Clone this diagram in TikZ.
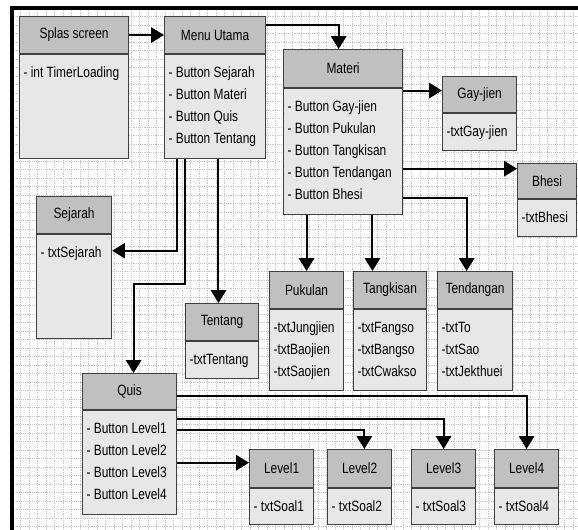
\documentclass[tikz,border=0pt]{standalone}
\usepackage{fontspec}
\setmainfont[FakeStretch=0.8]{Liberation Sans}
\usetikzlibrary{arrows.meta,positioning}

\definecolor{hdrgray}{RGB}{192,192,192}
\definecolor{bodygray}{RGB}{231,231,231}
\definecolor{edgegray}{RGB}{64,64,64}
\definecolor{gridgray}{RGB}{200,200,200}

\tikzset{
  clshead/.style={draw=edgegray, fill=hdrgray, line width=0.8pt, anchor=north west, inner sep=0pt, minimum height=0.925cm},
  clsbody/.style={draw=edgegray, fill=bodygray, line width=0.8pt, anchor=north west, inner xsep=0.1cm, inner ysep=0pt},
  link/.style={line width=1.4pt, -{Triangle[length=0.32cm, width=0.38cm]}},
  gridline/.style={gridgray, densely dotted, line width=0.3pt},
}
\newcommand{\members}[3]{\parbox[t][#2][t]{#1}{\raggedright\rule{0pt}{0.57cm}#3}}

\begin{document}
\begin{tikzpicture}[x=0.025cm, y=-0.025cm, font=\fontsize{10.6pt}{15.6pt}\selectfont]
\useasboundingbox (0,0) rectangle (578,530);

%grid and frame
\foreach \gx in {12,20.5,...,578} \draw[gridline] (\gx,8) -- (\gx,530);
\foreach \gy in {8,16.5,...,530} \draw[gridline] (12,\gy) -- (578,\gy);
\draw[line width=2.4pt] (12,530) -- (12,8) -- (578,8);

%splas screen, menu
\node[clshead, minimum width=2.725cm] (splas-h) at (19,16) {Splas screen};
\node[clsbody] (splas) at (splas-h.south west) {\members{2.525cm}{2.6cm}{- int TimerLoading}};
\node[clshead, minimum width=2.525cm] (menu-h) at (164,16) {Menu Utama};
\node[clsbody] (menu) at (menu-h.south west) {\members{2.325cm}{2.6cm}{- Button Sejarah\\- Button Materi\\- Button Quis\\- Button Tentang}};

%materi
\node[clshead, minimum width=2.975cm, minimum height=0.95cm] (materi-h) at (283,49) {Materi};
\node[clsbody] (materi) at (materi-h.south west) {\members{2.775cm}{3.15cm}{- Button Gay-jien\\- Button Pukulan\\- Button Tangkisan\\- Button Tendangan\\- Button Bhesi}};
\node[clshead, minimum width=1.85cm, minimum height=0.9cm] (gay-h) at (442,76) {Gay-jien};
\node[clsbody] (gay) at (gay-h.south west) {\members{1.65cm}{0.925cm}{-txtGay-jien}};
\node[clshead, minimum width=1.475cm, minimum height=0.875cm] (bhesi-h) at (517,163) {Bhesi};
\node[clsbody] (bhesi) at (bhesi-h.south west) {\members{1.275cm}{0.925cm}{-txtBhesi}};
\node[clshead, minimum width=1.85cm] (pukulan-h) at (269,271) {Pukulan};
\node[clsbody] (pukulan) at (pukulan-h.south west) {\members{1.65cm}{2.025cm}{-txtJungjien\\-txtBaojien\\-txtSaojien}};
\node[clshead, minimum width=1.825cm] (tangkisan-h) at (353,271) {Tangkisan};
\node[clsbody] (tangkisan) at (tangkisan-h.south west) {\members{1.625cm}{2.025cm}{-txtFangso\\-txtBangso\\-txtCwakso}};
\node[clshead, minimum width=1.875cm] (tendangan-h) at (437,271) {Tendangan};
\node[clsbody] (tendangan) at (tendangan-h.south west) {\members{1.675cm}{2.025cm}{-txtTo\\-txtSao\\-txtJekthuei}};

%sejarah, tentang
\node[clshead, minimum width=1.875cm] (sejarah-h) at (36,196) {Sejarah};
\node[clsbody] (sejarah) at (sejarah-h.south west) {\members{1.675cm}{2.6cm}{- txtSejarah}};
\node[clshead, minimum width=1.825cm] (tentang-h) at (185,303) {Tentang};
\node[clsbody] (tentang) at (tentang-h.south west) {\members{1.625cm}{0.925cm}{-txtTentang}};

%quis and levels
\node[clshead, minimum width=2.35cm, minimum height=0.9cm] (quis-h) at (82,373) {Quis};
\node[clsbody] (quis) at (quis-h.south west) {\members{2.15cm}{2.6cm}{- Button Level1\\- Button Level2\\- Button Level3\\- Button Level4}};
\foreach \lv/\lx in {1/249,2/327,3/411,4/494} {
	\node[clshead, minimum width=1.6cm, minimum height=0.95cm] (level\lv-h) at (\lx,449) {Level\lv};
	\node[clsbody] (level\lv) at (level\lv-h.south west) {\members{1.4cm}{0.9cm}{- txtSoal\lv}};
}

%connectors
\coordinate (materi-in) at ([xshift=-0.11cm]materi-h.north);
\coordinate (gay-in) at ([yshift=0.1cm]gay-h.west);
\coordinate (bhesi-in) at ([yshift=0.31cm]bhesi-h.west);
\coordinate (bhesi-out) at ([yshift=-1.15cm]materi.east);
\coordinate (tendangan-in) at ([xshift=-0.21cm]tendangan-h.north);
\coordinate (tangkisan-in) at ([xshift=-0.44cm]tangkisan-h.north);
\coordinate (sejarah-out) at ([xshift=-0.96cm]menu.south);
\coordinate (sejarah-in) at ([yshift=0.9cm]sejarah.east);
\coordinate (quis-out) at ([xshift=-0.76cm]menu.south);
\coordinate (quis-in) at ([xshift=0.1cm]quis-h.north);
\coordinate (tentang-in) at ([xshift=-0.09cm]tentang-h.north);
\coordinate (level2-in) at ([xshift=0.12cm]level2-h.north);

\draw[link] (splas-h.east) -- (menu-h.west);
\draw[link] ([yshift=0.26cm]menu-h.east) -| (materi-in);
\draw[link] (materi.east |- gay-in) -- (gay-in);
\draw[link] (materi.east |- bhesi-in) -- (bhesi-in);
\draw[link] (bhesi-out) -| (tendangan-in);
\draw[link] (materi.south -| pukulan-h.north) -- (pukulan-h.north);
\draw[link] (materi.south -| tangkisan-in) -- (tangkisan-in);

\draw[link] (sejarah-out) |- (sejarah-in);
\draw[link] (quis-out) -- ++(0,125) -| (quis-in);
\draw[link] (menu.south -| tentang-in) -- (tentang-in);

\draw[link] ([yshift=-0.1cm]quis-h.east) -| (level4-h.north);
\draw[link] ([yshift=1.1cm]quis.east) -| (level3-h.north);
\draw[link] ([yshift=0.825cm]quis.east) -| (level2-in);
\draw[link] (quis.east) -- (quis.east -| level1-h.west);
\end{tikzpicture}
\end{document}
